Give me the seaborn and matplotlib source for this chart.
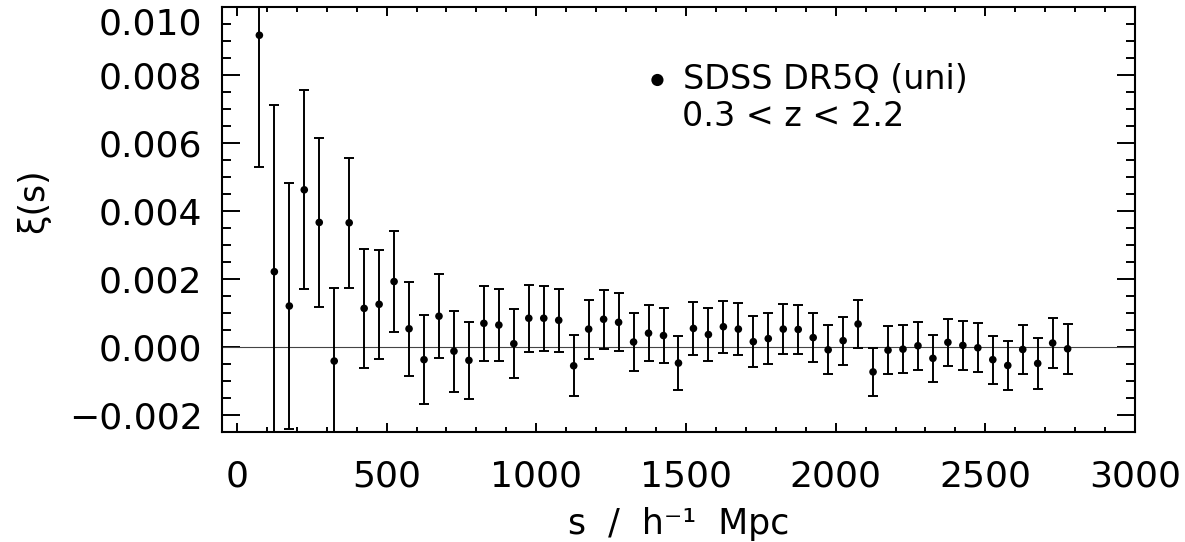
import numpy as np
import matplotlib
matplotlib.use("Agg")
import matplotlib.pyplot as plt
import matplotlib.ticker as mticker
import seaborn as sns

sns.set_style("ticks")
plt.rcParams['font.family'] = ['DejaVu Sans']
plt.rcParams['text.color'] = 'black'
plt.rcParams['axes.labelcolor'] = 'black'
plt.rcParams['xtick.color'] = 'black'
plt.rcParams['ytick.color'] = 'black'

# bin centres, s / h^-1 Mpc
s = [75, 125, 175, 225, 275, 325, 375, 425, 475, 525,
     575, 625, 675, 725, 775, 825, 875, 925, 975, 1025,
     1075, 1125, 1175, 1225, 1275, 1325, 1375, 1425, 1475, 1525,
     1575, 1625, 1675, 1725, 1775, 1825, 1875, 1925, 1975, 2025,
     2075, 2125, 2175, 2225, 2275, 2325, 2375, 2425, 2475, 2525,
     2575, 2625, 2675, 2725, 2775]

# xi(s) in units of 1e-3
xi = [9.17, 2.21, 1.20, 4.62, 3.66, -0.42, 3.65, 1.13, 1.25, 1.92,
      0.53, -0.38, 0.90, -0.13, -0.40, 0.69, 0.64, 0.09, 0.84, 0.84,
      0.78, -0.56, 0.52, 0.81, 0.72, 0.14, 0.40, 0.33, -0.48, 0.54,
      0.36, 0.59, 0.52, 0.15, 0.24, 0.52, 0.51, 0.27, -0.09, 0.18,
      0.67, -0.74, -0.10, -0.07, 0.03, -0.34, 0.13, 0.04, -0.03, -0.38,
      -0.55, -0.08, -0.49, 0.11, -0.06]

# 1-sigma errors in units of 1e-3
err = [3.87, 4.90, 3.62, 2.93, 2.48, 2.16, 1.92, 1.75, 1.61, 1.49,
       1.39, 1.31, 1.24, 1.19, 1.14, 1.10, 1.05, 1.01, 0.98, 0.96,
       0.93, 0.90, 0.87, 0.87, 0.85, 0.85, 0.83, 0.82, 0.79, 0.79,
       0.78, 0.77, 0.76, 0.76, 0.75, 0.74, 0.73, 0.73, 0.72, 0.71,
       0.72, 0.71, 0.71, 0.70, 0.70, 0.70, 0.70, 0.71, 0.72, 0.71,
       0.72, 0.72, 0.74, 0.74, 0.73]

xi = np.array(xi) * 1e-3
err = np.array(err) * 1e-3

fig = plt.figure(figsize=(11.85, 5.42), dpi=100)
ax = fig.add_axes([0.1873, 0.2035, 0.9578 - 0.1873, 0.987 - 0.2035])

ax.axhline(0, color='#444444', lw=0.8, zorder=1)
ax.errorbar(s, xi, yerr=err, fmt='none', ecolor='black', elinewidth=1.4,
            capsize=3.3, capthick=1.4, zorder=2)
sns.scatterplot(x=s, y=xi, ax=ax, color='black', s=30, edgecolor='none',
                label='SDSS DR5Q (uni)', zorder=3)

ax.set_xlim(-50, 3000)
ax.set_ylim(-0.0025, 0.0100)

ax.xaxis.set_major_locator(mticker.FixedLocator([0, 500, 1000, 1500, 2000, 2500, 3000]))
ax.xaxis.set_minor_locator(mticker.MultipleLocator(100))
ax.yaxis.set_major_locator(mticker.FixedLocator([-0.002, 0.0, 0.002, 0.004, 0.006, 0.008, 0.010]))
ax.yaxis.set_minor_locator(mticker.MultipleLocator(0.0005))
ax.yaxis.set_major_formatter(mticker.FuncFormatter(
    lambda v, p: ('%.3f' % v).replace('-', '\u2212')))

for sp in ax.spines.values():
    sp.set_linewidth(1.5)
    sp.set_color('black')

ax.tick_params(axis='both', which='both', direction='in', top=True, right=True,
               color='black', width=1.4)
ax.tick_params(axis='x', which='major', length=6.5, pad=20, labelsize=26)
ax.tick_params(axis='x', which='minor', length=3.3)
ax.tick_params(axis='y', which='major', length=13, pad=14, labelsize=26)
ax.tick_params(axis='y', which='minor', length=6.5)

ylabels = ax.get_yticklabels()
ylabels[-1].set_verticalalignment('top')

ax.set_xlabel('s  /  h\u207b\u00b9  Mpc', fontsize=25)
ax.xaxis.set_label_coords(0.5, -0.177)
ax.set_ylabel('\u03be(s)', fontsize=25)
ax.yaxis.set_label_coords(-0.188, 0.543)

leg = ax.legend(loc='center left', bbox_to_anchor=(0.466, 0.83), frameon=False,
                fontsize=24, handlelength=0.6, handletextpad=0.48,
                borderpad=0, borderaxespad=0, markerscale=1.6)
ax.text(0.504, 0.742, '0.3 < z < 2.2', transform=ax.transAxes,
        fontsize=24, ha='left', va='center')

fig.savefig('out.png', dpi=100)
